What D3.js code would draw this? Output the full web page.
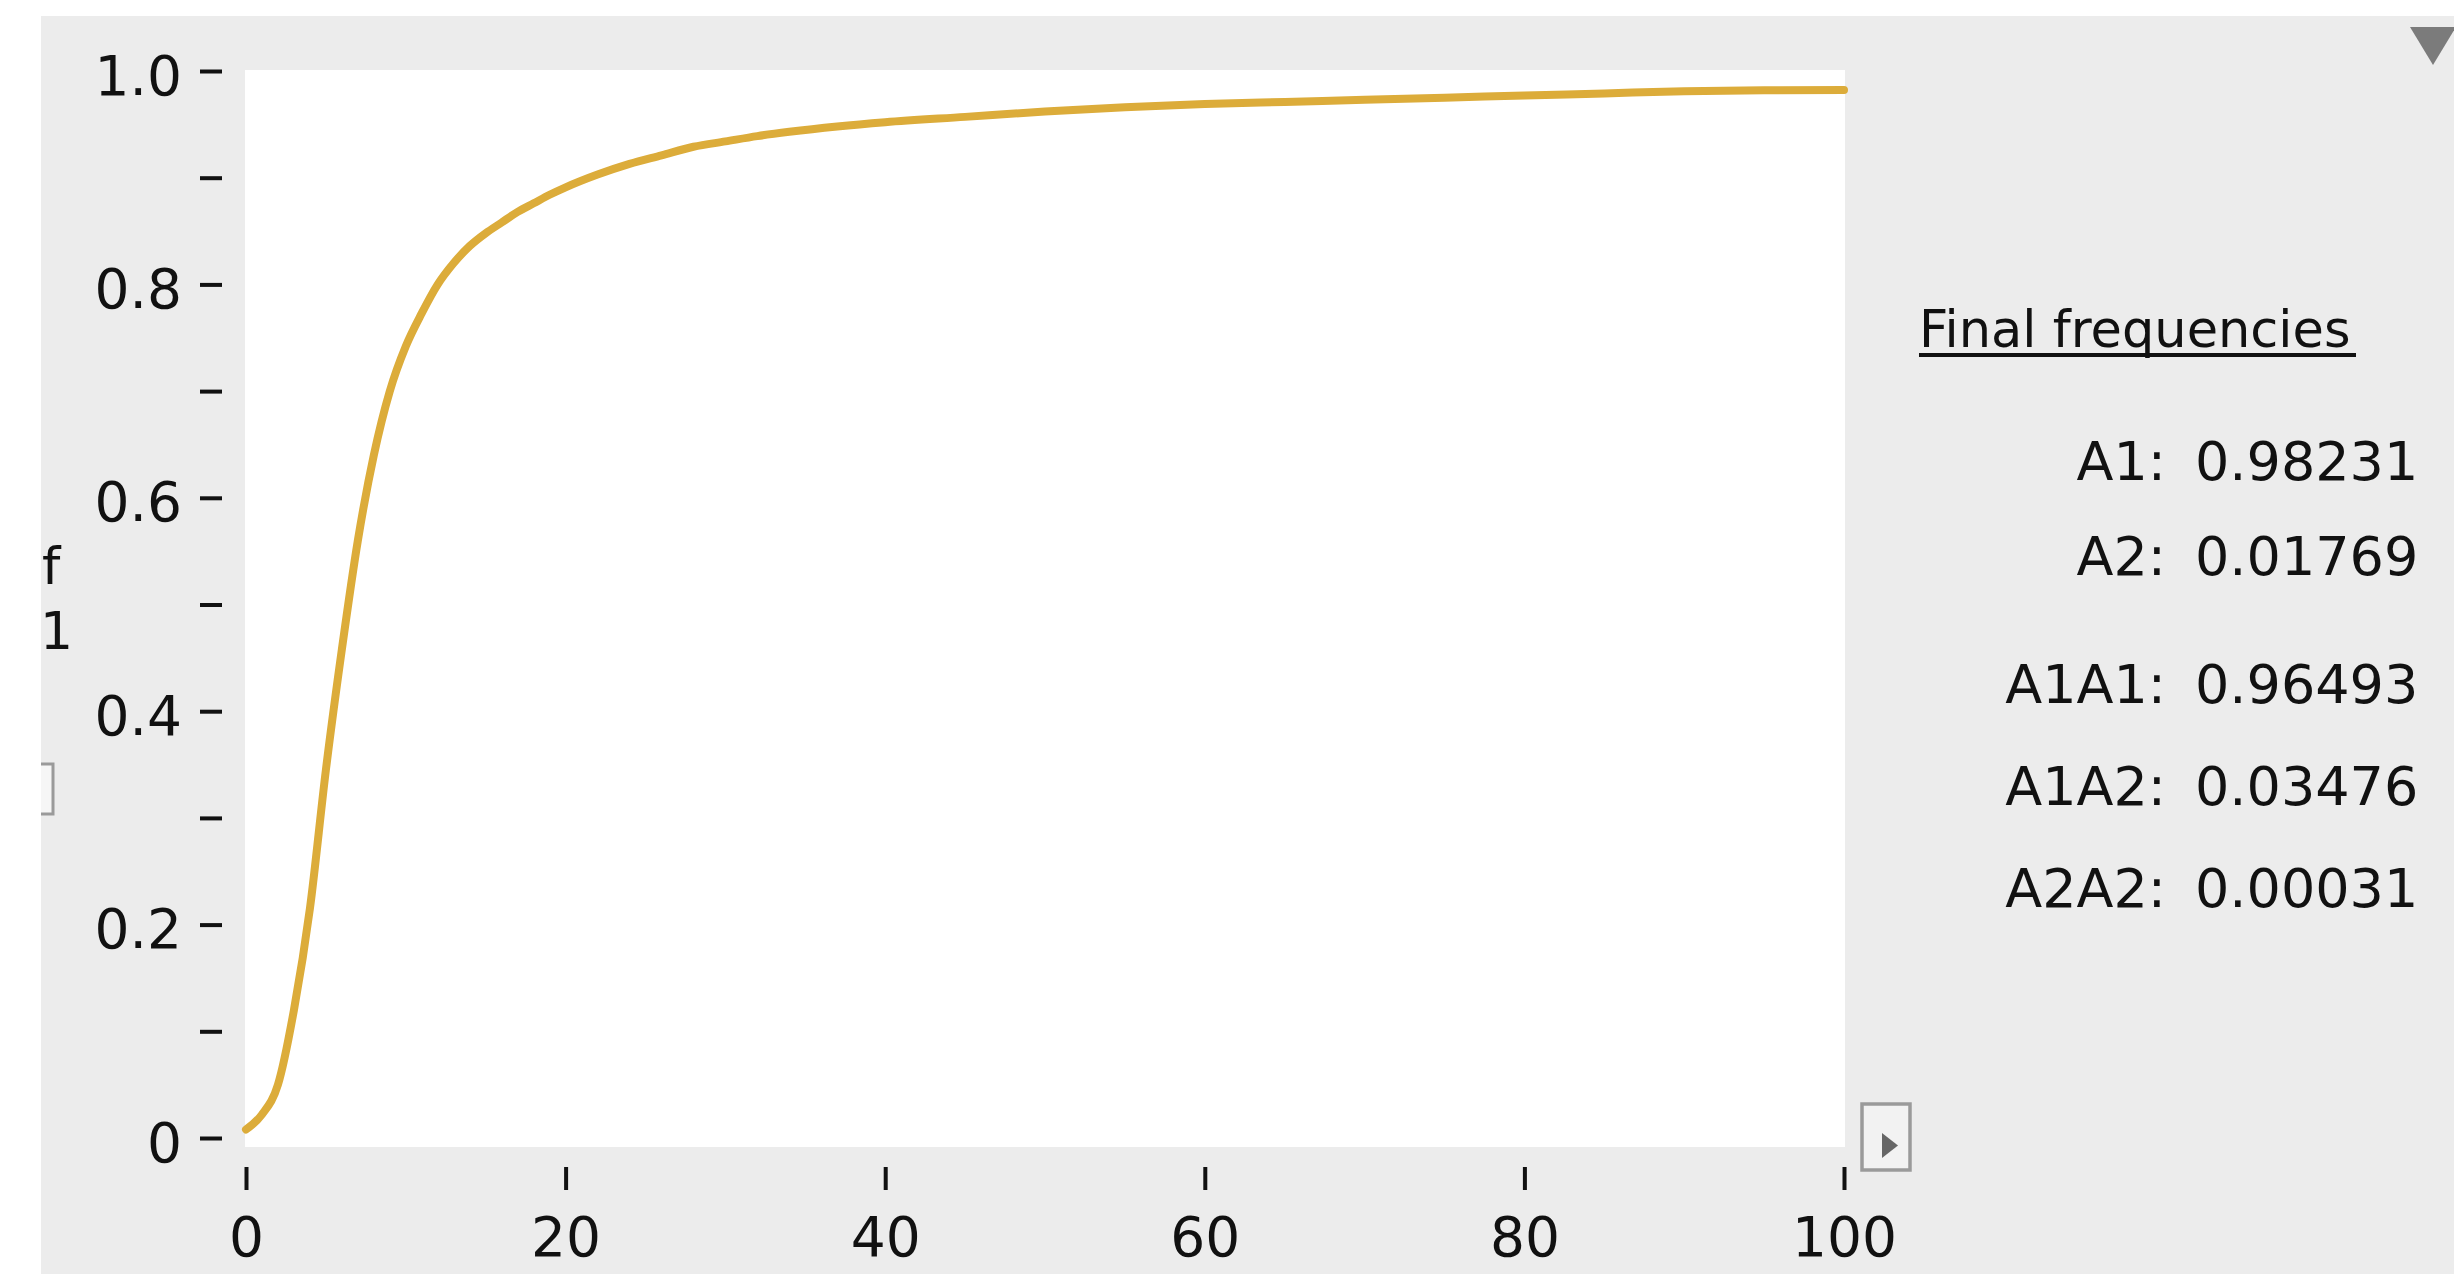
<!DOCTYPE html>
<html>
<head>
<meta charset="utf-8">
<script src="https://cdn.jsdelivr.net/npm/d3@7/dist/d3.min.js"></script>
<style>
  html, body { margin: 0; padding: 0; background: #ffffff; }
  svg { display: block; }
  text { font-family: "DejaVu Sans", Verdana, sans-serif; fill: #111; }
</style>
</head>
<body>
<svg id="chart" width="2454" height="1274"></svg>
<script>
// ---- data ----
const generations = [0,1,2,3,4,5,6,7,8,9,10,11,12,13,14,15,16,17,18,19,20,22,24,26,28,30,32,34,37,40,45,50,55,60,65,70,75,80,85,90,95,100];
const freqA1 = [0.008,0.022,0.050,0.120,0.215,0.345,0.458,0.560,0.640,0.700,0.742,0.773,0.800,0.820,0.836,0.848,0.858,0.868,0.876,0.884,0.891,0.903,0.913,0.921,0.929,0.934,0.939,0.943,0.948,0.952,0.957,0.962,0.966,0.969,0.971,0.973,0.975,0.977,0.979,0.981,0.982,0.9823];
const xTicks = [0,20,40,60,80,100];
const xTickLabels = ["0","20","40","60","80","100"];
const yTicks = [0,0.1,0.2,0.3,0.4,0.5,0.6,0.7,0.8,0.9,1.0];
const yTickLabels = ["0","","0.2","","0.4","","0.6","","0.8","","1.0"];
const legendTitle = "Final frequencies";
const alleleLabels = ["A1:","A2:"];
const alleleValues = ["0.98231","0.01769"];
const genotypeLabels = ["A1A1:","A1A2:","A2A2:"];
const genotypeValues = ["0.96493","0.03476","0.00031"];
const edgeFragments = ["f","1"];

// ---- drawing ----
const svg = d3.select("#chart");
const FS = 55;

// grey panel
svg.append("rect").attr("x",41).attr("y",16).attr("width",2454-41).attr("height",1274-16).attr("fill","#ececec");

// plot background
svg.append("rect").attr("x",245).attr("y",70).attr("width",1600).attr("height",1077).attr("fill","#ffffff");

const x = d3.scaleLinear().domain([0,100]).range([246,1844]);
const y = d3.scaleLinear().domain([0,1]).range([1138,71]);

// y axis
const yAxis = d3.axisLeft(y).tickValues(yTicks).tickSize(22).tickPadding(18)
  .tickFormat((d,i)=>yTickLabels[i]);
const gy = svg.append("g").attr("transform","translate(222,0)").call(yAxis);
gy.select(".domain").remove();
gy.selectAll(".tick line").attr("stroke","#111").attr("stroke-width",4);
gy.selectAll(".tick text").attr("font-size",FS).attr("dy","0.42em")
  .style("font-family","'DejaVu Sans', Verdana, sans-serif").attr("fill","#111");

// x axis
const xAxis = d3.axisBottom(x).tickValues(xTicks).tickSize(23).tickPadding(27)
  .tickFormat((d,i)=>xTickLabels[i]);
const gx = svg.append("g").attr("transform","translate(0,1167)").call(xAxis);
gx.select(".domain").remove();
gx.selectAll(".tick line").attr("stroke","#111").attr("stroke-width",4);
gx.selectAll(".tick text").attr("font-size",FS)
  .style("font-family","'DejaVu Sans', Verdana, sans-serif").attr("fill","#111");

// line
const pts = generations.map((g,i)=>[g,freqA1[i]]);
const line = d3.line().x(d=>x(d[0])).y(d=>y(d[1])).curve(d3.curveMonotoneX);
svg.append("path").attr("d",line(pts)).attr("fill","none")
  .attr("stroke","#dcac3a").attr("stroke-width",8)
  .attr("stroke-linejoin","round").attr("stroke-linecap","round");

// legend
svg.append("text").attr("x",1919).attr("y",347).attr("font-size",51).text(legendTitle);
svg.append("line").attr("x1",1919).attr("x2",2356).attr("y1",355).attr("y2",355)
  .attr("stroke","#111").attr("stroke-width",4);

const rowsY1 = [480,575];
const rowsY2 = [703,805,907];
alleleLabels.forEach((l,i)=>{
  svg.append("text").attr("x",2166).attr("y",rowsY1[i]).attr("text-anchor","end").attr("font-size",54).text(l);
  svg.append("text").attr("x",2195).attr("y",rowsY1[i]).attr("font-size",54).text(alleleValues[i]);
});
genotypeLabels.forEach((l,i)=>{
  svg.append("text").attr("x",2166).attr("y",rowsY2[i]).attr("text-anchor","end").attr("font-size",54).text(l);
  svg.append("text").attr("x",2195).attr("y",rowsY2[i]).attr("font-size",54).text(genotypeValues[i]);
});

// left-edge fragments (partly hidden label in the original)
svg.append("text").attr("x",42).attr("y",584).attr("font-size",52).text(edgeFragments[0]);
svg.append("text").attr("x",40).attr("y",649).attr("font-size",52).text(edgeFragments[1]);
const defs = svg.append("defs");
defs.append("clipPath").attr("id","leftclip").append("rect")
  .attr("x",41).attr("y",16).attr("width",200).attr("height",1258);
svg.append("g").attr("clip-path","url(#leftclip)").append("rect")
  .attr("x",10).attr("y",764).attr("width",43).attr("height",50)
  .attr("fill","#f6f6f6").attr("stroke","#9a9a9a").attr("stroke-width",3);

// top-right triangle
svg.append("path").attr("d","M2410,27 L2456,27 L2433,65 Z").attr("fill","#7b7b7b");

// small scroll button
svg.append("rect").attr("x",1862).attr("y",1104).attr("width",48).attr("height",66)
  .attr("fill","#f2f2f2").attr("stroke","#9a9a9a").attr("stroke-width",3.5);
svg.append("path").attr("d","M1882,1133 L1882,1158 L1898,1145.5 Z").attr("fill","#666");
</script>
</body>
</html>
